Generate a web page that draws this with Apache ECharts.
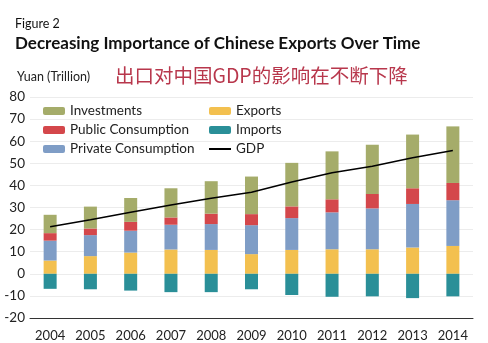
<!DOCTYPE html>
<html>
<head>
<meta charset="utf-8">
<script src="https://cdn.jsdelivr.net/npm/echarts@6/dist/echarts.min.js"></script>
<style>
html,body{margin:0;padding:0;background:#fff;}
#c{width:488px;height:343px;}
</style>
</head>
<body>
<div id="c"></div>
<script>
const years = ['2004','2005','2006','2007','2008','2009','2010','2011','2012','2013','2014'];
const exportsV = [6, 8, 9.6, 11, 10.8, 8.9, 10.8, 11.1, 11.1, 11.9, 12.6];
const privateV = [9, 9.5, 9.9, 11.2, 11.7, 13.1, 14.4, 16.7, 18.5, 19.7, 20.7];
const publicV = [3.4, 3, 4, 3.3, 4.7, 5, 5.3, 5.9, 6.5, 7.1, 7.8];
const investV = [8.3, 9.9, 10.8, 13.2, 14.7, 17, 19.7, 21.7, 22.3, 24.3, 25.6];
const importsV = [-6.8, -7, -7.6, -8.3, -8.3, -7, -9.6, -10.4, -10.2, -11, -10.2];
const gdpV = [21.3, 24.5, 27.8, 31.1, 34.2, 36.9, 41.5, 45.7, 48.7, 52.5, 55.8];
const yTicks = {min: -20, max: 80, interval: 10};

const FONT = 'Lato';
const chart = echarts.init(document.getElementById('c'), null, {renderer: 'canvas'});
const barW = 13;
function bar(name, data, color) {
  return {name, type: 'bar', stack: 'total', data, barWidth: barW,
    itemStyle: {color}, emphasis: {disabled: true}};
}
const legendText = {fontFamily: FONT, fontSize: 13.5, color: '#222'};
chart.setOption({
  backgroundColor: '#fff',
  animation: false,
  textStyle: {fontFamily: FONT},
  title: [
    {text: 'Figure 2', left: 10, top: 12, textStyle: {fontFamily: FONT, fontSize: 12.5, fontWeight: 'normal', color: '#111'}},
    {text: 'Decreasing Importance of Chinese Exports Over Time', left: 10, top: 30, textStyle: {fontFamily: FONT, fontSize: 17, fontWeight: 'bold', color: '#111'}},
    {text: 'Yuan (Trillion)', left: 12, top: 65, textStyle: {fontFamily: FONT, fontSize: 12.5, fontWeight: 'normal', color: '#222'}},
    {text: '出口对中国GDP的影响在不断下降', left: 110, top: 61, textStyle: {fontFamily: 'Noto Sans CJK SC', fontSize: 19.5, fontWeight: 'normal', color: '#b8374c'}}
  ],
  legend: [
    {orient: 'vertical', left: 38, top: 99, itemWidth: 22, itemHeight: 8, itemGap: 5,
      textStyle: legendText,
      data: ['Investments', 'Public Consumption', 'Private Consumption'], selectedMode: false},
    {orient: 'vertical', left: 203, top: 99, itemWidth: 22, itemHeight: 8, itemGap: 5,
      textStyle: legendText,
      data: ['Exports', 'Imports', {name: 'GDP', itemStyle: {opacity: 0}}], selectedMode: false}
  ],
  grid: {left: 30, top: 97, width: 443, height: 221, containLabel: false},
  xAxis: {
    type: 'category', data: years, position: 'bottom',
    axisLine: {onZero: false, lineStyle: {color: '#333', width: 1}},
    axisTick: {alignWithLabel: true, length: 6, lineStyle: {color: '#333'}},
    axisLabel: {fontFamily: FONT, fontSize: 13, color: '#222', margin: 11}
  },
  yAxis: {
    type: 'value', min: yTicks.min, max: yTicks.max, interval: yTicks.interval,
    axisLine: {show: false}, axisTick: {show: false},
    axisLabel: {fontFamily: FONT, fontSize: 13.5, color: '#222', margin: 5},
    splitLine: {lineStyle: {color: '#ececec', width: 1}}
  },
  series: [
    bar('Exports', exportsV, '#f3c04f'),
    bar('Private Consumption', privateV, '#7f9dc6'),
    bar('Public Consumption', publicV, '#d4474b'),
    bar('Investments', investV, '#a5ac6a'),
    bar('Imports', importsV, '#2a8f98'),
    {name: 'GDP', type: 'line', data: gdpV, symbol: 'none', smooth: false,
      lineStyle: {color: '#000', width: 1.5}, itemStyle: {color: '#000'}, z: 10}
  ]
});
</script>
</body>
</html>
